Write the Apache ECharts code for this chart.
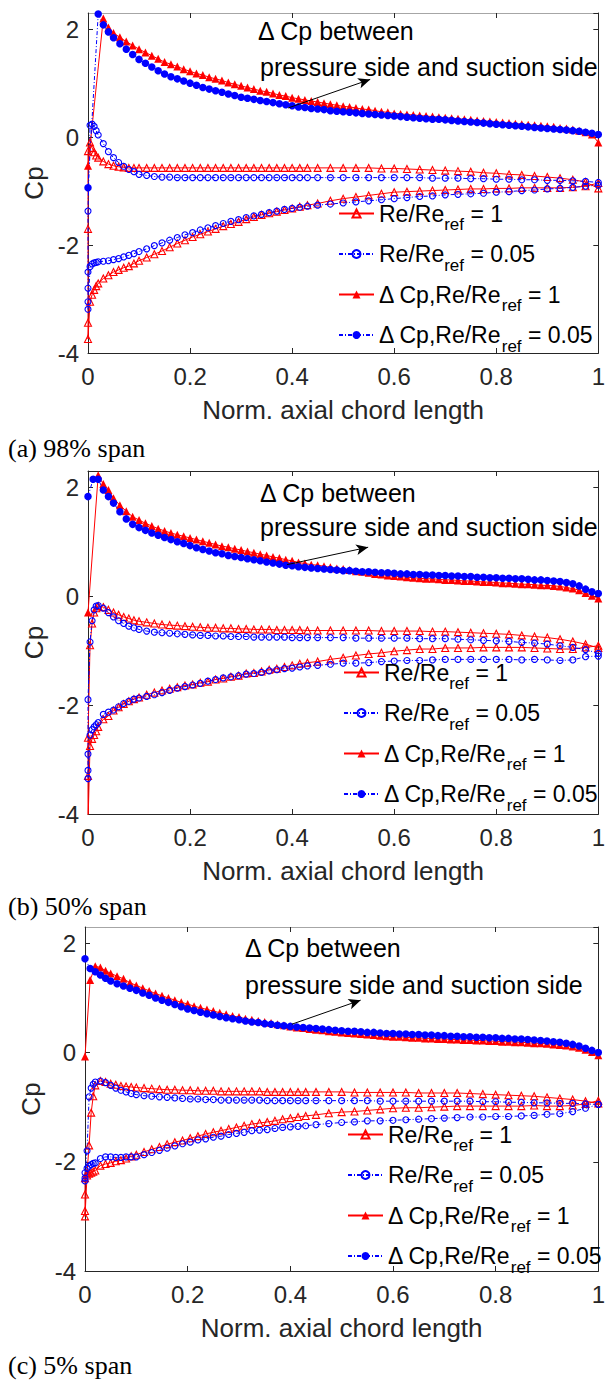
<!DOCTYPE html>
<html>
<head>
<meta charset="utf-8">
<script src="https://cdn.jsdelivr.net/npm/echarts@6/dist/echarts.min.js"></script>
<style>
  html, body { margin: 0; padding: 0; background: #fff; }
  #chart { width: 608px; height: 1383px; }
</style>
</head>
<body>
<div id="chart"></div>
<script>
// ---- chord stations (normalised axial chord) ----
// blade-surface stations, shared by pressure and suction side
const xSide = [
  0.004, 0.008, 0.012, 0.016, 0.02,
  0.03, 0.04, 0.05, 0.06, 0.07, 0.08, 0.09, 0.10,
  0.115, 0.13, 0.145, 0.16, 0.175, 0.19, 0.205, 0.22, 0.235, 0.25, 0.265,
  0.28, 0.295, 0.31, 0.325, 0.34, 0.355, 0.37, 0.385, 0.40, 0.415, 0.43,
  0.45, 0.475, 0.5, 0.525, 0.55, 0.575, 0.6, 0.625, 0.65, 0.675, 0.7, 0.725,
  0.75, 0.775, 0.8, 0.825, 0.85, 0.875, 0.9, 0.925, 0.95, 0.975, 1.0
];
// leading-edge points all sit at x = 0
const xLeadingEdge = 0;
// stations of the pressure-difference curves
const xDelta = [
  0, 0.01, 0.02, 0.03, 0.04,
  0.05, 0.0625, 0.075, 0.0875, 0.1, 0.1125, 0.125, 0.1375,
  0.15, 0.1625, 0.175, 0.1875, 0.2, 0.2125, 0.225, 0.2375,
  0.25, 0.2625, 0.275, 0.2875, 0.3, 0.3125, 0.325, 0.3375,
  0.35, 0.3625, 0.375, 0.3875, 0.4, 0.4125, 0.425, 0.4375,
  0.45, 0.4625, 0.475, 0.4875, 0.5, 0.5125, 0.525, 0.5375,
  0.55, 0.5625, 0.575, 0.5875, 0.6, 0.6125, 0.625, 0.6375,
  0.65, 0.6625, 0.675, 0.6875, 0.7, 0.7125, 0.725, 0.7375,
  0.75, 0.7625, 0.775, 0.7875, 0.8, 0.8125, 0.825, 0.8375,
  0.85, 0.8625, 0.875, 0.8875, 0.9, 0.9125, 0.925, 0.9375,
  0.95, 0.9625, 0.975, 0.9875, 1.0
];

// ---- (a) 98% span ----
const leA1 = [-3.74, -3.44, -1.70, -0.26];
const sucA1 = [
  -3.05, -2.92, -2.83, -2.76, -2.71,
  -2.62, -2.56, -2.50, -2.46, -2.42, -2.39, -2.34, -2.29,
  -2.23, -2.17, -2.11, -2.04, -1.97, -1.91, -1.85, -1.80, -1.75, -1.70, -1.65,
  -1.61, -1.57, -1.52, -1.48, -1.44, -1.41, -1.38, -1.35, -1.32, -1.29, -1.26,
  -1.23, -1.18, -1.14, -1.11, -1.08, -1.05, -1.02, -1.01, -1.00, -0.99, -0.98, -0.97,
  -0.96, -0.96, -0.95, -0.95, -0.94, -0.94, -0.94, -0.94, -0.93, -0.91, -0.85
];
const preA1 = [
  -0.10, -0.20, -0.28, -0.34, -0.38,
  -0.45, -0.50, -0.53, -0.55, -0.56, -0.57, -0.57, -0.57,
  -0.57, -0.57, -0.57, -0.57, -0.57, -0.57, -0.57, -0.57, -0.57, -0.57, -0.57,
  -0.57, -0.57, -0.57, -0.57, -0.57, -0.57, -0.57, -0.57, -0.57, -0.57, -0.57,
  -0.57, -0.57, -0.57, -0.57, -0.57, -0.58, -0.58, -0.59, -0.60, -0.61, -0.62, -0.63,
  -0.64, -0.66, -0.67, -0.69, -0.70, -0.72, -0.74, -0.76, -0.79, -0.83, -0.95
];
const leA2 = [-3.19, -3.05, -2.80, -2.50, -1.37];
const sucA2 = [
  -2.40, -2.35, -2.33, -2.32, -2.31,
  -2.30, -2.29, -2.27, -2.25, -2.22, -2.19, -2.16, -2.12,
  -2.07, -2.01, -1.96, -1.91, -1.86, -1.81, -1.77, -1.72, -1.68, -1.64, -1.60,
  -1.56, -1.53, -1.49, -1.46, -1.43, -1.40, -1.37, -1.34, -1.32, -1.30, -1.28,
  -1.26, -1.24, -1.22, -1.20, -1.18, -1.16, -1.14, -1.12, -1.10, -1.09, -1.07, -1.06,
  -1.05, -1.04, -1.02, -1.01, -0.99, -0.98, -0.96, -0.95, -0.93, -0.91, -0.89
];
const preA2 = [
  0.22, 0.24, 0.20, 0.12, 0.04,
  -0.12, -0.27, -0.38, -0.47, -0.54, -0.60, -0.64, -0.69,
  -0.71, -0.73, -0.74, -0.74, -0.75, -0.75, -0.75, -0.75, -0.75, -0.75, -0.75,
  -0.75, -0.75, -0.75, -0.75, -0.75, -0.75, -0.75, -0.75, -0.75, -0.75, -0.75,
  -0.75, -0.75, -0.75, -0.75, -0.75, -0.75, -0.75, -0.75, -0.75, -0.76, -0.76, -0.76,
  -0.77, -0.77, -0.78, -0.78, -0.79, -0.79, -0.80, -0.80, -0.81, -0.82, -0.84
];
const dA1 = [
  -0.53, null, null, 2.20, 2.03,
  1.93, 1.85, 1.77, 1.70, 1.63, 1.57, 1.51, 1.45,
  1.39, 1.35, 1.31, 1.26, 1.22, 1.18, 1.15, 1.11,
  1.08, 1.05, 1.01, 0.98, 0.95, 0.92, 0.89, 0.86,
  0.84, 0.81, 0.78, 0.76, 0.73, 0.71, 0.69, 0.67,
  0.65, 0.63, 0.61, 0.59, 0.57, 0.56, 0.54, 0.52,
  0.51, 0.49, 0.47, 0.46, 0.44, 0.43, 0.42, 0.41,
  0.40, 0.39, 0.38, 0.37, 0.36, 0.35, 0.34, 0.33,
  0.32, 0.31, 0.30, 0.29, 0.28, 0.27, 0.26, 0.25,
  0.24, 0.23, 0.22, 0.21, 0.20, 0.19, 0.17, 0.16,
  0.14, 0.12, 0.09, 0.05, -0.10
];
const dA2 = [
  -0.94, null, 2.28, 2.08, 1.95,
  1.84, 1.73, 1.63, 1.53, 1.44, 1.37, 1.30, 1.23,
  1.17, 1.12, 1.08, 1.04, 1.00, 0.96, 0.92, 0.89,
  0.86, 0.83, 0.80, 0.77, 0.74, 0.72, 0.70, 0.68,
  0.66, 0.64, 0.62, 0.60, 0.58, 0.56, 0.55, 0.53,
  0.52, 0.51, 0.49, 0.48, 0.47, 0.46, 0.45, 0.44,
  0.43, 0.42, 0.41, 0.40, 0.39, 0.38, 0.37, 0.36,
  0.35, 0.34, 0.33, 0.33, 0.32, 0.31, 0.30, 0.29,
  0.28, 0.27, 0.26, 0.25, 0.24, 0.23, 0.22, 0.21,
  0.20, 0.19, 0.18, 0.17, 0.16, 0.15, 0.14, 0.13,
  0.12, 0.11, 0.09, 0.07, 0.05
];

// ---- (b) 50% span ----
const leB1 = [-4.20, -3.30, -2.60];
const sucB1 = [
  -2.75, -2.62, -2.55, -2.48, -2.40,
  -2.26, -2.20, -2.10, -2.04, -1.98, -1.93, -1.89, -1.86,
  -1.81, -1.77, -1.73, -1.70, -1.67, -1.64, -1.62, -1.59, -1.57, -1.53, -1.51,
  -1.48, -1.46, -1.42, -1.41, -1.38, -1.35, -1.33, -1.30, -1.27, -1.24, -1.22,
  -1.20, -1.16, -1.13, -1.09, -1.06, -1.04, -1.01, -0.99, -0.97, -0.97, -0.95, -0.95,
  -0.95, -0.94, -0.94, -0.94, -0.94, -0.95, -0.96, -0.97, -0.97, -0.94, -0.91
];
const preB1 = [
  -0.90, -0.50, -0.30, -0.22, -0.18,
  -0.20, -0.25, -0.30, -0.34, -0.38, -0.41, -0.44, -0.46,
  -0.48, -0.50, -0.52, -0.53, -0.54, -0.55, -0.56, -0.57, -0.58, -0.58, -0.59,
  -0.59, -0.60, -0.60, -0.61, -0.61, -0.61, -0.62, -0.62, -0.62, -0.62, -0.63,
  -0.63, -0.63, -0.63, -0.63, -0.63, -0.64, -0.64, -0.64, -0.64, -0.65, -0.65, -0.66,
  -0.67, -0.68, -0.69, -0.70, -0.72, -0.74, -0.76, -0.79, -0.83, -0.88, -0.95
];
const leB2 = [-3.35, -3.20, -2.90, -1.90];
const sucB2 = [
  -2.55, -2.45, -2.40, -2.36, -2.32,
  -2.17, -2.13, -2.09, -2.03, -1.97, -1.93, -1.89, -1.87,
  -1.84, -1.81, -1.77, -1.73, -1.69, -1.66, -1.63, -1.60, -1.56, -1.53, -1.50,
  -1.48, -1.46, -1.43, -1.42, -1.40, -1.37, -1.35, -1.33, -1.32, -1.30, -1.28,
  -1.27, -1.25, -1.23, -1.23, -1.22, -1.20, -1.19, -1.18, -1.18, -1.17, -1.16, -1.16,
  -1.16, -1.16, -1.16, -1.16, -1.17, -1.16, -1.17, -1.18, -1.17, -1.11, -1.10
];
const preB2 = [
  -0.84, -0.45, -0.25, -0.18, -0.17,
  -0.22, -0.30, -0.38, -0.45, -0.50, -0.55, -0.58, -0.61,
  -0.64, -0.66, -0.67, -0.68, -0.69, -0.70, -0.71, -0.72, -0.72, -0.73, -0.73,
  -0.74, -0.74, -0.74, -0.75, -0.75, -0.75, -0.75, -0.75, -0.76, -0.76, -0.76,
  -0.76, -0.76, -0.76, -0.77, -0.77, -0.77, -0.77, -0.77, -0.78, -0.78, -0.78, -0.79,
  -0.80, -0.81, -0.82, -0.83, -0.85, -0.86, -0.88, -0.91, -0.94, -0.98, -1.05
];
const dB1 = [
  -0.30, null, 2.22, 2.06, 1.95,
  1.80, 1.67, 1.56, 1.46, 1.40, 1.34, 1.29, 1.24,
  1.20, 1.16, 1.13, 1.10, 1.07, 1.04, 1.01, 0.98,
  0.95, 0.92, 0.90, 0.87, 0.85, 0.82, 0.80, 0.77,
  0.75, 0.72, 0.70, 0.67, 0.65, 0.62, 0.60, 0.58,
  0.57, 0.55, 0.53, 0.51, 0.50, 0.48, 0.46, 0.45,
  0.43, 0.41, 0.40, 0.38, 0.37, 0.36, 0.35, 0.34,
  0.33, 0.32, 0.32, 0.31, 0.30, 0.30, 0.29, 0.28,
  0.28, 0.27, 0.26, 0.26, 0.25, 0.24, 0.24, 0.23,
  0.22, 0.22, 0.21, 0.20, 0.20, 0.19, 0.18, 0.16,
  0.14, 0.11, 0.06, 0.01, -0.04
];
const dB2 = [
  1.83, 2.15, 2.15, 1.95, 1.83,
  1.71, 1.55, 1.42, 1.32, 1.26, 1.21, 1.16, 1.12,
  1.08, 1.04, 1.00, 0.97, 0.93, 0.89, 0.86, 0.83,
  0.80, 0.78, 0.75, 0.73, 0.71, 0.69, 0.67, 0.65,
  0.63, 0.61, 0.59, 0.57, 0.56, 0.54, 0.53, 0.52,
  0.51, 0.50, 0.49, 0.48, 0.47, 0.47, 0.46, 0.45,
  0.45, 0.44, 0.43, 0.43, 0.42, 0.41, 0.41, 0.40,
  0.40, 0.39, 0.39, 0.38, 0.38, 0.37, 0.37, 0.36,
  0.36, 0.35, 0.35, 0.34, 0.34, 0.33, 0.33, 0.32,
  0.32, 0.31, 0.30, 0.30, 0.29, 0.28, 0.27, 0.25,
  0.23, 0.19, 0.13, 0.08, 0.05
];

// ---- (c) 5% span ----
const leC1 = [-3.00, -2.90, -2.60, -2.30];
const sucC1 = [
  -2.25, -2.22, -2.20, -2.18, -2.16,
  -2.07, -2.04, -2.02, -1.99, -1.97, -1.94, -1.90, -1.87,
  -1.82, -1.77, -1.73, -1.68, -1.64, -1.61, -1.57, -1.53, -1.49, -1.46, -1.43,
  -1.40, -1.37, -1.34, -1.31, -1.29, -1.27, -1.25, -1.22, -1.20, -1.18, -1.16,
  -1.14, -1.11, -1.09, -1.08, -1.06, -1.04, -1.02, -1.01, -1.01, -1.00, -0.99, -0.98,
  -0.98, -0.98, -0.98, -0.98, -0.98, -0.97, -0.98, -0.98, -0.97, -0.94, -0.88
];
const preC1 = [
  -2.20, -1.70, -1.10, -0.80, -0.60,
  -0.52, -0.54, -0.57, -0.59, -0.61, -0.62, -0.63, -0.64,
  -0.65, -0.66, -0.67, -0.68, -0.68, -0.69, -0.69, -0.70, -0.70, -0.70, -0.71,
  -0.71, -0.71, -0.71, -0.71, -0.71, -0.72, -0.72, -0.72, -0.72, -0.72, -0.72,
  -0.72, -0.72, -0.72, -0.73, -0.73, -0.73, -0.73, -0.73, -0.74, -0.74, -0.74, -0.74,
  -0.75, -0.76, -0.77, -0.78, -0.79, -0.80, -0.82, -0.84, -0.86, -0.89, -0.93
];
const leC2 = [-2.35, -2.30, -2.20];
const sucC2 = [
  -2.12, -2.08, -2.05, -2.03, -2.02,
  -1.94, -1.91, -1.91, -1.92, -1.92, -1.91, -1.91, -1.91,
  -1.87, -1.83, -1.79, -1.75, -1.71, -1.67, -1.64, -1.60, -1.58, -1.55, -1.53,
  -1.50, -1.48, -1.46, -1.43, -1.42, -1.41, -1.39, -1.37, -1.36, -1.35, -1.34,
  -1.32, -1.30, -1.28, -1.27, -1.25, -1.25, -1.24, -1.23, -1.22, -1.21, -1.20, -1.19,
  -1.18, -1.18, -1.17, -1.17, -1.16, -1.15, -1.13, -1.12, -1.08, -1.02, -0.95
];
const preC2 = [
  -1.80, -0.81, -0.65, -0.58, -0.54,
  -0.52, -0.55, -0.60, -0.65, -0.69, -0.72, -0.75, -0.77,
  -0.79, -0.80, -0.81, -0.82, -0.83, -0.84, -0.85, -0.85, -0.86, -0.86, -0.87,
  -0.87, -0.87, -0.87, -0.87, -0.87, -0.88, -0.88, -0.88, -0.88, -0.88, -0.88,
  -0.88, -0.88, -0.88, -0.88, -0.88, -0.89, -0.89, -0.89, -0.89, -0.89, -0.89, -0.89,
  -0.89, -0.90, -0.90, -0.91, -0.91, -0.92, -0.92, -0.93, -0.93, -0.94, -0.95
];
const dC1 = [
  -0.07, 1.33, 1.58, 1.56, 1.50,
  1.45, 1.40, 1.35, 1.28, 1.23, 1.18, 1.13, 1.08,
  1.04, 1.00, 0.96, 0.92, 0.89, 0.85, 0.82, 0.79,
  0.76, 0.73, 0.70, 0.67, 0.65, 0.62, 0.60, 0.58,
  0.56, 0.54, 0.52, 0.50, 0.48, 0.46, 0.45, 0.43,
  0.42, 0.41, 0.39, 0.38, 0.37, 0.36, 0.35, 0.34,
  0.33, 0.32, 0.31, 0.30, 0.29, 0.29, 0.28, 0.27,
  0.27, 0.26, 0.26, 0.25, 0.25, 0.24, 0.24, 0.23,
  0.23, 0.22, 0.22, 0.21, 0.21, 0.20, 0.20, 0.19,
  0.19, 0.18, 0.17, 0.17, 0.16, 0.15, 0.14, 0.13,
  0.11, 0.09, 0.05, 0.01, -0.05
];
const dC2 = [
  1.72, 1.54, 1.48, 1.42, 1.36,
  1.31, 1.26, 1.22, 1.18, 1.14, 1.09, 1.05, 1.00,
  0.96, 0.92, 0.88, 0.84, 0.80, 0.77, 0.74, 0.71,
  0.69, 0.66, 0.64, 0.62, 0.60, 0.58, 0.56, 0.55,
  0.53, 0.52, 0.50, 0.49, 0.48, 0.47, 0.46, 0.45,
  0.44, 0.43, 0.42, 0.41, 0.40, 0.39, 0.39, 0.38,
  0.37, 0.37, 0.36, 0.35, 0.35, 0.34, 0.34, 0.33,
  0.33, 0.32, 0.32, 0.31, 0.31, 0.30, 0.30, 0.29,
  0.29, 0.28, 0.28, 0.27, 0.27, 0.26, 0.26, 0.25,
  0.25, 0.24, 0.23, 0.22, 0.21, 0.20, 0.19, 0.17,
  0.15, 0.12, 0.08, 0.04, 0.00
];

// annotation arrows: [x tail, Cp tail, x head, Cp head]
const arrowA = [0.392, 0.54, 0.553, 1.07];
const arrowB = [0.39, 0.58, 0.549, 0.90];
const arrowC = [0.403, 0.52, 0.537, 0.96];

const seriesNames = ['Re/Re_ref = 1', 'Re/Re_ref = 0.05', 'Δ Cp,Re/Re_ref = 1', 'Δ Cp,Re/Re_ref = 0.05'];
const captions = ['(a) 98% span', '(b) 50% span', '(c) 5% span'];
const noteLines = ['Δ Cp between', 'pressure side and suction side'];
const xName = 'Norm. axial chord length';
const yName = 'Cp';

// ---- drawing ----
const SANS = "'Liberation Sans', Arial, sans-serif";
const SERIF = "'Liberation Serif', 'Times New Roman', serif";
const INK = '#262626';
const RED = '#ff0000';
const BLUE = '#0000ff';
const DASHDOT = [4, 2, 1, 2];

const panels = [
  { le1: leA1, suc1: sucA1, pre1: preA1, d1: dA1, le2: leA2, suc2: sucA2, pre2: preA2, d2: dA2, arrow: arrowA },
  { le1: leB1, suc1: sucB1, pre1: preB1, d1: dB1, le2: leB2, suc2: sucB2, pre2: preB2, d2: dB2, arrow: arrowB },
  { le1: leC1, suc1: sucC1, pre1: preC1, d1: dC1, le2: leC2, suc2: sucC2, pre2: preC2, d2: dC2, arrow: arrowC }
];

const layout = [
  { box: [88, 13, 515, 340], topLine: '#a6a6a6', legend: [338, 202], caption: [8, 448], note: [258, 31, 260, 67] },
  { box: [88, 471, 517, 343], topLine: INK, legend: [343, 661], caption: [8, 906], note: [260, 493, 260, 527] },
  { box: [85, 927, 521, 344], topLine: '#a6a6a6', legend: [347, 1123], caption: [8, 1365], note: [245, 948, 245, 985] }
];

// closed blade loop: suction side from trailing edge to leading edge, then pressure side back
function bladeLoop(le, suc, pre) {
  const pts = [];
  for (let i = suc.length - 1; i >= 0; i--) pts.push([xSide[i], suc[i]]);
  le.forEach(v => pts.push([xLeadingEdge, v]));
  pre.forEach((v, i) => pts.push([xSide[i], v]));
  return pts;
}
function deltaCurve(vals) {
  return vals.map((v, i) => [xDelta[i], v]);
}

const grid = [], xAxis = [], yAxis = [], series = [], legend = [], graphic = [];

panels.forEach((p, k) => {
  const L = layout[k];
  grid.push({ left: L.box[0], top: L.box[1], width: L.box[2], height: L.box[3], containLabel: false });
  const tick = { show: true, inside: true, length: 5, lineStyle: { color: INK, width: 1 } };
  xAxis.push({
    gridIndex: k, type: 'value', min: 0, max: 1, interval: 0.2, position: 'bottom',
    axisLine: { show: true, onZero: false, lineStyle: { color: INK, width: 1 } },
    axisTick: tick, splitLine: { show: false },
    axisLabel: { fontFamily: SANS, fontSize: 24, color: INK, margin: 11 },
    name: xName, nameLocation: 'middle', nameGap: 44,
    nameTextStyle: { fontFamily: SANS, fontSize: 26, color: INK }
  });
  xAxis.push({
    gridIndex: k, type: 'value', min: 0, max: 1, interval: 0.2, position: 'top',
    axisLine: { show: true, onZero: false, lineStyle: { color: L.topLine, width: 1 } },
    axisTick: tick, splitLine: { show: false }, axisLabel: { show: false }
  });
  yAxis.push({
    gridIndex: k, type: 'value', min: -4, max: 2.3, interval: 2, position: 'left',
    axisLine: { show: true, onZero: false, lineStyle: { color: INK, width: 1 } },
    axisTick: tick, splitLine: { show: false },
    axisLabel: { fontFamily: SANS, fontSize: 24, color: INK, margin: 9, showMaxLabel: false },
    name: yName, nameLocation: 'middle', nameGap: 38, nameRotate: 90,
    nameTextStyle: { fontFamily: SANS, fontSize: 26, color: INK }
  });
  yAxis.push({
    gridIndex: k, type: 'value', min: -4, max: 2.3, interval: 2, position: 'right',
    axisLine: { show: true, onZero: false, lineStyle: { color: INK, width: 1 } },
    axisTick: tick, splitLine: { show: false }, axisLabel: { show: false }
  });

  const common = {
    type: 'line', xAxisIndex: 2 * k, yAxisIndex: 2 * k, showSymbol: true, showAllSymbol: true,
    connectNulls: true, animation: false, emphasis: { disabled: true }, silent: true, z: 2
  };
  series.push(Object.assign({}, common, {
    name: seriesNames[0], data: bladeLoop(p.le1, p.suc1, p.pre1),
    symbol: 'triangle', symbolSize: 7,
    lineStyle: { color: RED, width: 1 },
    itemStyle: { color: 'rgba(255,255,255,0)', borderColor: RED, borderWidth: 1.1 }
  }));
  series.push(Object.assign({}, common, {
    name: seriesNames[1], data: bladeLoop(p.le2, p.suc2, p.pre2),
    symbol: 'circle', symbolSize: 6,
    lineStyle: { color: BLUE, width: 1, type: DASHDOT },
    itemStyle: { color: 'rgba(255,255,255,0)', borderColor: BLUE, borderWidth: 1.1 }
  }));
  series.push(Object.assign({}, common, {
    name: seriesNames[2], data: deltaCurve(p.d1),
    symbol: 'triangle', symbolSize: 8,
    lineStyle: { color: RED, width: 1 },
    itemStyle: { color: RED }
  }));
  series.push(Object.assign({}, common, {
    name: seriesNames[3], data: deltaCurve(p.d2),
    symbol: 'circle', symbolSize: 7.5,
    lineStyle: { color: BLUE, width: 1, type: DASHDOT },
    itemStyle: { color: BLUE },
    markLine: {
      silent: true, animation: false, symbol: ['none', 'arrow'], symbolSize: [8, 12],
      label: { show: false },
      lineStyle: { color: '#000', width: 1, type: 'solid' },
      data: [[{ coord: [p.arrow[0], p.arrow[1]] }, { coord: [p.arrow[2], p.arrow[3]] }]]
    }
  }));

  legend.push({
    data: seriesNames, orient: 'vertical', align: 'left', left: L.legend[0], top: L.legend[1],
    padding: 0, itemGap: 9.5, itemWidth: 35, itemHeight: 10, selectedMode: false,
    formatter: name => {
      const parts = name.split('_ref');
      return '{n|' + parts[0] + '}{s|ref}{n|' + parts[1] + '}';
    },
    textStyle: {
      fontFamily: SANS, fontSize: 23, color: '#000',
      rich: {
        n: { fontFamily: SANS, fontSize: 23, color: '#000' },
        s: { fontFamily: SANS, fontSize: 17, color: '#000', padding: [22, 0, 0, 0] }
      }
    }
  });

  graphic.push({
    type: 'text', x: L.note[0], y: L.note[1], silent: true,
    style: { text: noteLines[0], fontFamily: SANS, fontSize: 25, fill: '#000', align: 'left', verticalAlign: 'middle' }
  });
  graphic.push({
    type: 'text', x: L.note[2], y: L.note[3], silent: true,
    style: { text: noteLines[1], fontFamily: SANS, fontSize: 25, fill: '#000', align: 'left', verticalAlign: 'middle' }
  });
  graphic.push({
    type: 'text', x: L.caption[0], y: L.caption[1], silent: true,
    style: { text: captions[k], fontFamily: SERIF, fontSize: 26, fill: '#000', align: 'left', verticalAlign: 'middle' }
  });
});

const chart = echarts.init(document.getElementById('chart'), null, { renderer: 'svg' });
chart.setOption({
  animation: false,
  backgroundColor: '#fff',
  grid, xAxis, yAxis, series, legend,
  graphic: { elements: graphic }
});
</script>
</body>
</html>
